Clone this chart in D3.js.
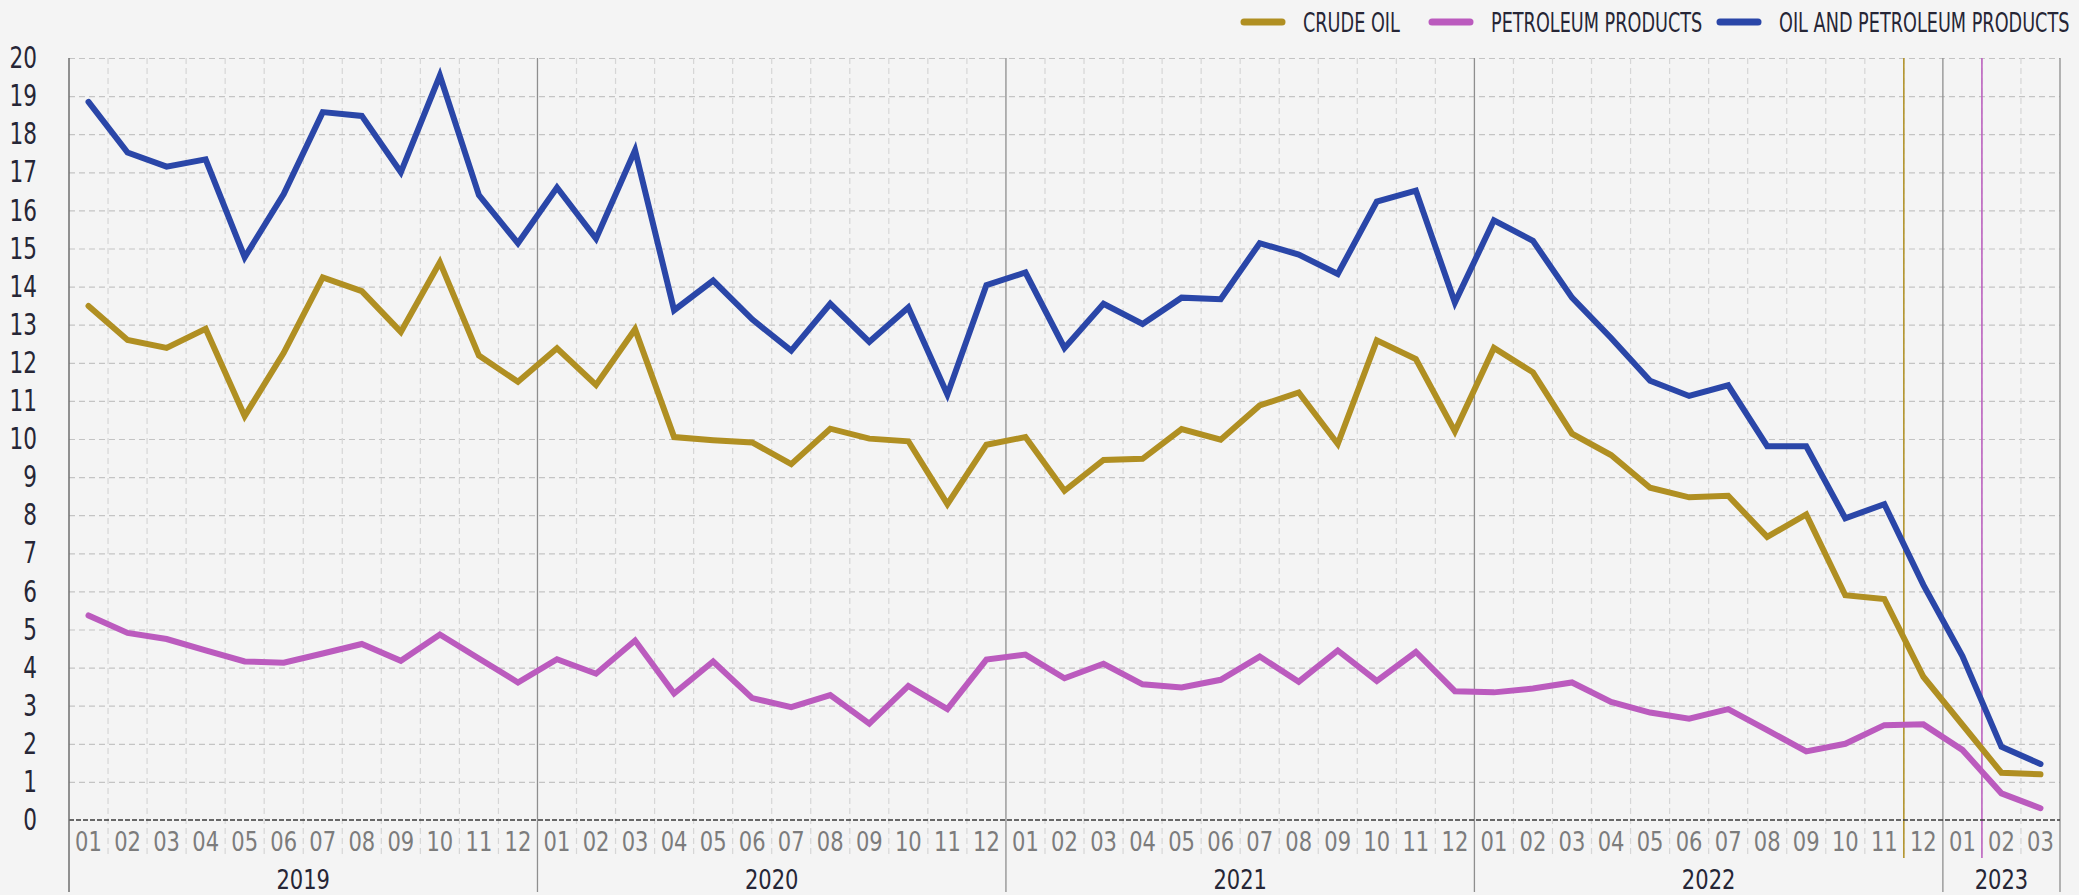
<!DOCTYPE html>
<html>
<head>
<meta charset="utf-8">
<script src="https://cdn.jsdelivr.net/npm/d3@7"></script>
<style>
  html, body { margin: 0; padding: 0; background: #f4f4f4; }
  svg { display: block; }
  text { font-family: "DejaVu Sans", "Noto Sans", sans-serif; }
</style>
</head>
<body>
<svg id="chart" width="2079" height="895"></svg>
<script>
// ---------- DATA ----------
const years = ["2019", "2020", "2021", "2022", "2023"];
const monthLabels = ["01","02","03","04","05","06","07","08","09","10","11","12"];
const monthsPerYear = [12, 12, 12, 12, 3];
const yTicks = [0,1,2,3,4,5,6,7,8,9,10,11,12,13,14,15,16,17,18,19,20];

const seriesNames = ["CRUDE OIL", "PETROLEUM PRODUCTS", "OIL AND PETROLEUM PRODUCTS"];
const seriesColors = ["#b08f22", "#bb5bbe", "#2a46a8"];

const crudeOil = [
  13.49, 12.60, 12.39, 12.89, 10.60, 12.26, 14.24, 13.88, 12.81, 14.64, 12.19, 11.50,
  12.38, 11.42, 12.88, 10.05, 9.97, 9.91, 9.34, 10.27, 10.01, 9.94, 8.29, 9.85,
  10.05, 8.64, 9.45, 9.48, 10.26, 9.98, 10.88, 11.22, 9.87, 12.59, 12.10, 10.20,
  12.39, 11.75, 10.14, 9.58, 8.72, 8.47, 8.51, 7.43, 8.02, 5.90, 5.80, 3.76,
  2.50, 1.24, 1.20
];
const petroleumProducts = [
  5.37, 4.91, 4.75, 4.45, 4.16, 4.13, 4.37, 4.62, 4.18, 4.87, 4.24, 3.61,
  4.22, 3.84, 4.71, 3.32, 4.16, 3.20, 2.96, 3.28, 2.53, 3.52, 2.91, 4.21,
  4.34, 3.72, 4.10, 3.56, 3.48, 3.68, 4.29, 3.63, 4.45, 3.65, 4.41, 3.38,
  3.35, 3.45, 3.61, 3.10, 2.82, 2.66, 2.91, 2.36, 1.80, 2.00, 2.49, 2.51,
  1.84, 0.70, 0.31
];
const oilAndPetroleum = [
  18.85, 17.52, 17.15, 17.34, 14.77, 16.43, 18.58, 18.48, 17.00, 19.54, 16.40, 15.14,
  16.60, 15.26, 17.58, 13.38, 14.16, 13.14, 12.32, 13.55, 12.55, 13.45, 11.17, 14.04,
  14.37, 12.39, 13.55, 13.02, 13.71, 13.67, 15.14, 14.84, 14.33, 16.23, 16.52, 13.58,
  15.74, 15.20, 13.71, 12.65, 11.53, 11.13, 11.41, 9.81, 9.81, 7.92, 8.29, 6.17,
  4.30, 1.92, 1.47
];
// markers: first month after last available value
const crudeMarker = "2022-12";
const productsMarker = "2023-02";

// ---------- BUILD ----------
(function () {
const categories = [];
years.forEach((yr, i) => {
  for (let m = 0; m < monthsPerYear[i]; m++) categories.push(yr + "-" + monthLabels[m]);
});
const allSeries = [crudeOil, petroleumProducts, oilAndPetroleum];

// horizontally condense text (reference uses a condensed face)
function condense(sel, sx) {
  sel.each(function () {
    const t = d3.select(this);
    const xv = +t.attr("x") || 0;
    t.attr("x", xv / sx).attr("transform", `scale(${sx},1)`);
  });
}

const svg = d3.select("#chart");
const pLeft = 69, pRight = 2060, pTop = 58, pBottom = 820, axisBottom = 892;

const x = d3.scaleBand().domain(categories).range([pLeft, pRight]).padding(0);
const y = d3.scaleLinear().domain([0, 20]).range([pBottom, pTop]);

// horizontal grid
const hg = svg.append("g").attr("transform", `translate(${pLeft},0)`)
  .call(d3.axisLeft(y).tickValues(yTicks.filter(t => t > 0)).tickSize(-(pRight - pLeft)).tickFormat(""));
hg.select(".domain").remove();
hg.selectAll("line").attr("stroke", "#c4c4c4").attr("stroke-width", 1.2).attr("stroke-dasharray", "6,4");

// minor vertical dashed lines (month boundaries)
const minor = categories.filter((c, i) => i > 0 && !c.endsWith("-01"));
svg.append("g").selectAll("line").data(minor).join("line")
  .attr("x1", d => x(d)).attr("x2", d => x(d))
  .attr("y1", pTop).attr("y2", 858)
  .attr("stroke", "#d6d6d6").attr("stroke-width", 1.2).attr("stroke-dasharray", "6,4");

// year separators
const yearStarts = categories.filter((c, i) => i > 0 && c.endsWith("-01"));
svg.append("g").selectAll("line").data(yearStarts).join("line")
  .attr("x1", d => x(d)).attr("x2", d => x(d))
  .attr("y1", pTop).attr("y2", axisBottom)
  .attr("stroke", "#8e8e8e").attr("stroke-width", 1.3);
// right edge
svg.append("line").attr("x1", pRight).attr("x2", pRight).attr("y1", pTop).attr("y2", axisBottom)
  .attr("stroke", "#8e8e8e").attr("stroke-width", 1.3);

// marker lines
svg.append("line").attr("x1", x(crudeMarker)).attr("x2", x(crudeMarker))
  .attr("y1", pTop).attr("y2", 858).attr("stroke", seriesColors[0]).attr("stroke-width", 1.5);
svg.append("line").attr("x1", x(productsMarker)).attr("x2", x(productsMarker))
  .attr("y1", pTop).attr("y2", 858).attr("stroke", seriesColors[1]).attr("stroke-width", 1.5);

// zero baseline (dashed dark)
svg.append("line").attr("x1", pLeft).attr("x2", pRight).attr("y1", y(0)).attr("y2", y(0))
  .attr("stroke", "#3a3a3a").attr("stroke-width", 1.4).attr("stroke-dasharray", "5,2");

// y axis
const ya = svg.append("g").attr("transform", `translate(${pLeft},0)`)
  .call(d3.axisLeft(y).tickValues(yTicks).tickSize(0).tickPadding(32).tickFormat(d3.format("d")));
ya.select(".domain").attr("d", `M0,${pTop}V${axisBottom}`).attr("stroke", "#6e6e6e").attr("stroke-width", 1.5);
ya.selectAll("text").attr("font-size", 30).attr("fill", "#262636").call(condense, 0.72);

// month axis
const xa = svg.append("g").attr("transform", `translate(0,${pBottom})`)
  .call(d3.axisBottom(x).tickSize(0).tickPadding(12).tickFormat(d => d.slice(5)));
xa.select(".domain").remove();
xa.selectAll("text").attr("font-size", 27).attr("fill", "#7c7c7c").call(condense, 0.78);

// year labels
svg.append("g").selectAll("text").data(years).join("text")
  .attr("x", yr => {
    const ms = categories.filter(c => c.startsWith(yr));
    return (x(ms[0]) + x(ms[ms.length - 1]) + x.bandwidth()) / 2;
  })
  .attr("y", 880).attr("text-anchor", "middle").attr("dominant-baseline", "central")
  .attr("font-size", 27).attr("fill", "#262636").text(d => d)
  .call(condense, 0.78);

// lines
const line = d3.line().x((d, i) => x(categories[i]) + x.bandwidth() / 2).y(d => y(d));
svg.append("g").selectAll("path").data(allSeries).join("path")
  .attr("d", d => line(d))
  .attr("fill", "none")
  .attr("stroke", (d, i) => seriesColors[i])
  .attr("stroke-width", 6)
  .attr("stroke-linejoin", "miter")
  .attr("stroke-linecap", "round");

// legend
const legendX = [1244, 1432, 1720];
const lg = svg.append("g").selectAll("g").data(seriesNames).join("g")
  .attr("transform", (d, i) => `translate(${legendX[i]},22)`);
lg.append("line").attr("x1", 0).attr("x2", 38).attr("y1", 0).attr("y2", 0)
  .attr("stroke", (d, i) => seriesColors[i]).attr("stroke-width", 7).attr("stroke-linecap", "round");
lg.append("text").attr("x", 59).attr("y", 1).attr("dominant-baseline", "central")
  .attr("font-size", 26).attr("fill", "#262636").text(d => d)
  .call(condense, 0.68);
})();
</script>
</body>
</html>
